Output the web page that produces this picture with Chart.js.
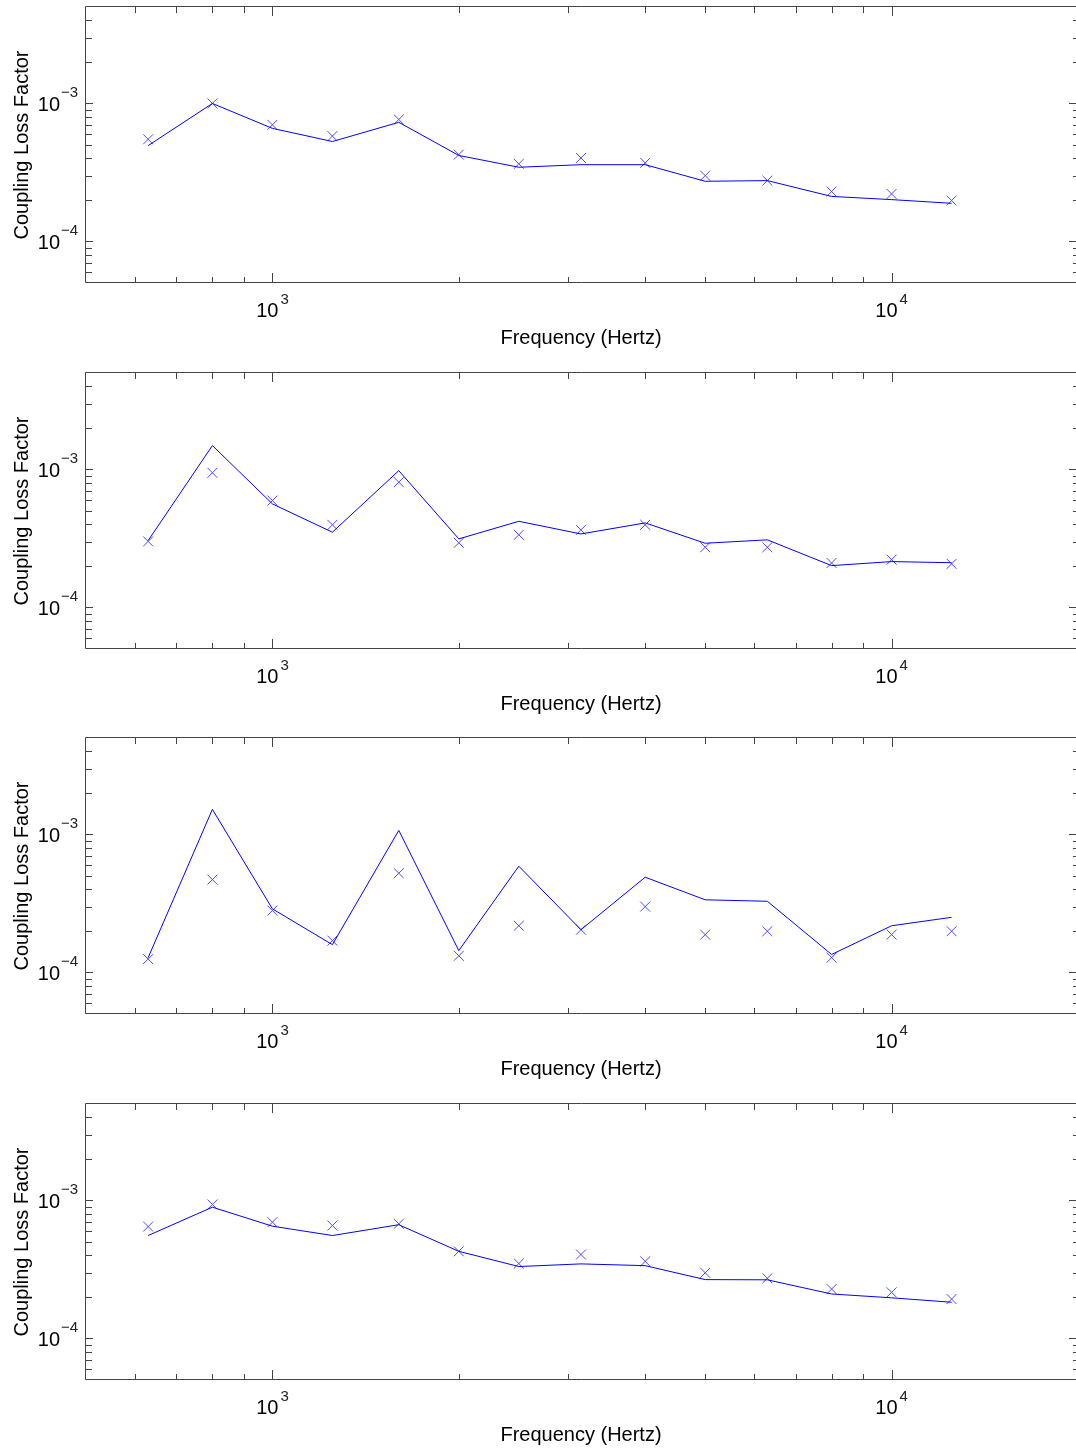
<!DOCTYPE html>
<html>
<head>
<meta charset="utf-8">
<script src="https://cdn.jsdelivr.net/npm/chart.js@4/dist/chart.umd.min.js"></script>
<style>
  html, body { margin: 0; padding: 0; background: #fff; overflow: hidden; }
  canvas { position: absolute; left: 0; }
</style>
</head>
<body>
<canvas id="c0" width="1078" height="366" style="top:0px"></canvas>
<canvas id="c1" width="1078" height="365" style="top:366px"></canvas>
<canvas id="c2" width="1078" height="366" style="top:731px"></canvas>
<canvas id="c3" width="1078" height="354" style="top:1097px"></canvas>
<script>
// frequencias (tercios de octava)
const freqs = [630, 800, 1000, 1250, 1600, 2000, 2500, 3150, 4000, 5000, 6300, 8000, 10000, 12500];

// panel 1
const line1 = [4.95e-4, 1.0e-3, 6.6e-4, 5.3e-4, 7.3e-4, 4.2e-4, 3.45e-4, 3.6e-4, 3.6e-4, 2.73e-4, 2.76e-4, 2.12e-4, 2.01e-4, 1.89e-4];
const marks1 = [5.5e-4, 1.0e-3, 7.0e-4, 5.8e-4, 7.65e-4, 4.26e-4, 3.65e-4, 4.03e-4, 3.71e-4, 3.0e-4, 2.76e-4, 2.3e-4, 2.21e-4, 1.98e-4];
// panel 2
const line2 = [3.05e-4, 1.49e-3, 5.63e-4, 3.51e-4, 9.8e-4, 3.14e-4, 4.21e-4, 3.41e-4, 4.1e-4, 2.92e-4, 3.09e-4, 2.01e-4, 2.15e-4, 2.11e-4];
const marks2 = [3.01e-4, 9.46e-4, 5.95e-4, 3.97e-4, 8.09e-4, 2.94e-4, 3.36e-4, 3.65e-4, 3.97e-4, 2.73e-4, 2.73e-4, 2.1e-4, 2.22e-4, 2.07e-4];
// panel 3
const line3 = [1.28e-4, 1.52e-3, 2.89e-4, 1.59e-4, 1.07e-3, 1.44e-4, 5.89e-4, 2.04e-4, 4.9e-4, 3.36e-4, 3.28e-4, 1.35e-4, 2.18e-4, 2.51e-4];
const marks3 = [1.25e-4, 4.71e-4, 2.81e-4, 1.7e-4, 5.24e-4, 1.32e-4, 2.18e-4, 2.04e-4, 3.0e-4, 1.88e-4, 1.99e-4, 1.28e-4, 1.88e-4, 1.99e-4];
// panel 4
const line4 = [5.57e-4, 8.94e-4, 6.51e-4, 5.57e-4, 6.67e-4, 4.28e-4, 3.32e-4, 3.47e-4, 3.37e-4, 2.67e-4, 2.66e-4, 2.1e-4, 1.97e-4, 1.83e-4];
const marks4 = [6.47e-4, 9.35e-4, 6.96e-4, 6.58e-4, 6.77e-4, 4.28e-4, 3.49e-4, 4.06e-4, 3.62e-4, 2.99e-4, 2.73e-4, 2.28e-4, 2.16e-4, 1.93e-4];

// ejes
const xMajorTicks = [1e3, 1e4];
const xMinorTicks = [600, 700, 800, 900, 2000, 3000, 4000, 5000, 6000, 7000, 8000, 9000];
const yMajorTicks = [1e-3, 1e-4];
const yMinorTicks = [6e-5, 7e-5, 8e-5, 9e-5, 2e-4, 3e-4, 4e-4, 5e-4, 6e-4, 7e-4, 8e-4, 9e-4, 2e-3, 3e-3, 4e-3];
const xTitle = "Frequency (Hertz)";
const yTitle = "Coupling Loss Factor";

const FONT = '"Liberation Sans", Arial, sans-serif';

// dibuja marco, ticks y etiquetas al estilo IDL
const axesPlugin = {
  id: "idlAxes",
  afterDraw(chart) {
    const ctx = chart.ctx;
    const a = chart.chartArea;
    const xs = chart.scales.x, ys = chart.scales.y;
    ctx.save();
    ctx.strokeStyle = "#444";
    ctx.lineWidth = 1;
    ctx.beginPath();
    ctx.moveTo(a.left - 0.5, a.bottom - 0.5);
    ctx.lineTo(a.left - 0.5, a.top - 0.5);
    ctx.lineTo(a.right, a.top - 0.5);
    ctx.moveTo(a.left - 0.5, a.bottom - 0.5);
    ctx.lineTo(a.right, a.bottom - 0.5);
    // x ticks
    const xt = (v, lb, lt) => {
      const px = Math.round(xs.getPixelForValue(v)) + 0.5;
      ctx.moveTo(px, a.bottom); ctx.lineTo(px, a.bottom - lb);
      ctx.moveTo(px, a.top); ctx.lineTo(px, a.top + lt);
    };
    xMinorTicks.forEach(v => xt(v, 6, 6));
    xMajorTicks.forEach(v => xt(v, 10, 9));
    // y ticks
    const yt = (v, ll, lr) => {
      const py = Math.round(ys.getPixelForValue(v)) + 0.5;
      ctx.moveTo(a.left, py); ctx.lineTo(a.left + ll, py);
      ctx.moveTo(a.right, py); ctx.lineTo(a.right - lr, py);
    };
    yMinorTicks.forEach(v => yt(v, 6, 5));
    yMajorTicks.forEach(v => yt(v, 7, 9));
    ctx.stroke();

    // etiquetas de ticks
    ctx.fillStyle = "#000";
    xMajorTicks.forEach(v => {
      const px = xs.getPixelForValue(v);
      ctx.font = "20px " + FONT;
      ctx.textAlign = "right";
      ctx.textBaseline = "alphabetic";
      ctx.fillText("10", px + 6, a.bottom + 34);
      ctx.font = "15px " + FONT;
      ctx.textAlign = "left";
      ctx.fillStyle = "#222";
      ctx.fillText(String(Math.round(Math.log10(v))), px + 8, a.bottom + 21);
      ctx.fillStyle = "#000";
    });
    yMajorTicks.forEach(v => {
      const py = ys.getPixelForValue(v);
      ctx.font = "20px " + FONT;
      ctx.textAlign = "right";
      ctx.textBaseline = "alphabetic";
      ctx.fillText("10", 60, py + 8);
      ctx.font = "15px " + FONT;
      ctx.textAlign = "left";
      ctx.fillStyle = "#222";
      ctx.fillText("\u2212" + Math.abs(Math.round(Math.log10(v))), 61, py - 6);
      ctx.fillStyle = "#000";
    });

    // titulos
    ctx.font = "20px " + FONT;
    ctx.textAlign = "center";
    ctx.textBaseline = "alphabetic";
    ctx.fillText(xTitle, (a.left + 1076) / 2, a.bottom + 61);
    ctx.save();
    ctx.translate(28, (a.top + a.bottom) / 2);
    ctx.rotate(-Math.PI / 2);
    ctx.fillText(yTitle, 0, 0);
    ctx.restore();
    ctx.restore();
  }
};

function makePanel(id, lineVals, markVals) {
  const canvas = document.getElementById(id);
  const ctx = canvas.getContext("2d");
  return new Chart(ctx, {
    type: "scatter",
    data: {
      datasets: [
        {
          data: freqs.map((f, i) => ({ x: f, y: lineVals[i] })),
          showLine: true,
          borderColor: "#0000ff",
          borderWidth: 1,
          pointRadius: 0,
          tension: 0
        },
        {
          data: freqs.map((f, i) => ({ x: f, y: markVals[i] })),
          showLine: false,
          pointStyle: "crossRot",
          pointRadius: 7,
          pointBorderWidth: 1,
          pointBorderColor: "#4a4aff",
          backgroundColor: "#4a4aff"
        }
      ]
    },
    options: {
      responsive: false,
      animation: false,
      devicePixelRatio: 1,
      layout: {
        autoPadding: false,
        padding: { left: 86, top: 7, right: 0, bottom: canvas.height - 283 }
      },
      plugins: { legend: { display: false }, tooltip: { enabled: false } },
      scales: {
        x: { type: "logarithmic", min: 500, max: 20000, display: false },
        y: { type: "logarithmic", min: 5e-5, max: 5e-3, display: false }
      }
    },
    plugins: [axesPlugin]
  });
}

makePanel("c0", line1, marks1);
makePanel("c1", line2, marks2);
makePanel("c2", line3, marks3);
makePanel("c3", line4, marks4);
</script>
</body>
</html>
